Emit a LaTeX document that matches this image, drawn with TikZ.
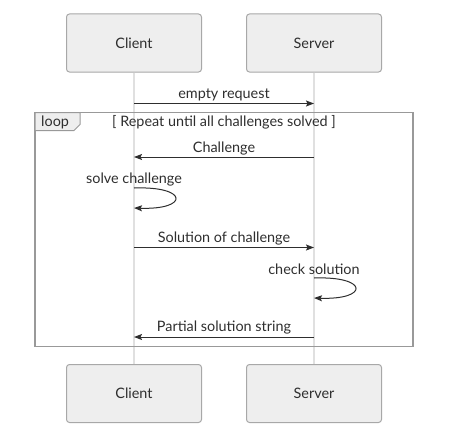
\documentclass[tikz,border=0pt]{standalone}
\usepackage{fontspec}
\setmainfont{Lato}
\usetikzlibrary{arrows.meta}
\definecolor{txt}{HTML}{2E2E2E}
\definecolor{boxfill}{HTML}{EEEEEE}
\definecolor{boxline}{HTML}{A8A8A8}
\definecolor{life}{HTML}{E0E0E0}
\definecolor{frame}{HTML}{999999}
\tikzset{
  actor/.style={draw=boxline, fill=boxfill, rounded corners=3pt, line width=1pt,
    minimum width=135pt, minimum height=58pt, inner sep=0pt, text=txt, font=\fontsize{14.4}{16}\selectfont},
  lifeline/.style={draw=life, line width=1.5pt},
  msg/.style={draw=txt, line width=1pt, -{Stealth[length=8pt,width=6pt,inset=1.5pt]}},
  lbl/.style={text=txt, font=\fontsize{14.4}{16}\selectfont, inner sep=0pt},
}
\begin{document}
\begin{tikzpicture}[x=1pt,y=-1pt]
\useasboundingbox (0,0) rectangle (454,444);
% actors
\node[actor] (cT) at (134,43) {Client};
\node[actor] (sT) at (314,43) {Server};
\node[actor] (cB) at (134,393.5) {Client};
\node[actor] (sB) at (314,393.5) {Server};
% lifelines
\draw[lifeline] (cT.south) -- (cB.north);
\draw[lifeline] (sT.south) -- (sB.north);
% loop frame
\draw[draw=frame, line width=1.3pt] (35,112.5) rectangle (413,346.5);
\draw[draw=frame, fill=boxfill, line width=1pt] (35,112.5) -- (80,112.5) -- (80,124.5) -- (74,130.5) -- (35,130.5) -- cycle;
\node[lbl, anchor=west] (looplbl) at (41,122.5) {loop};
\node[lbl] (guard) at (224,122.5) {[ Repeat until all challenges solved ]};
% message coordinates
\coordinate (c1) at (134,103.5); \coordinate (s1) at (314,103.5);
\coordinate (c2) at (134,157);   \coordinate (s2) at (314,157);
\coordinate (c3a) at (134,188);  \coordinate (c3b) at (134,208);
\coordinate (c4) at (134,247.5); \coordinate (s4) at (314,247.5);
\coordinate (s5a) at (314,278);  \coordinate (s5b) at (314,298);
\coordinate (c6) at (134,337);   \coordinate (s6) at (314,337);
% messages
\draw[msg] (c1) -- (s1);
\node[lbl] (m1) at (224,94.5) {empty request};
\draw[msg] (s2) -- (c2);
\node[lbl] (m2) at (224,148.5) {Challenge};
\node[lbl] (m3) at (134,179.5) {solve challenge};
\draw[msg] (c3a) .. controls (189,186) and (189,210) .. (c3b);
\draw[msg] (c4) -- (s4);
\node[lbl] (m4) at (224,238.5) {Solution of challenge};
\node[lbl] (m5) at (314,269.5) {check solution};
\draw[msg] (s5a) .. controls (369,276) and (369,300) .. (s5b);
\draw[msg] (s6) -- (c6);
\node[lbl] (m6) at (224,327.5) {Partial solution string};
\end{tikzpicture}
\end{document}
